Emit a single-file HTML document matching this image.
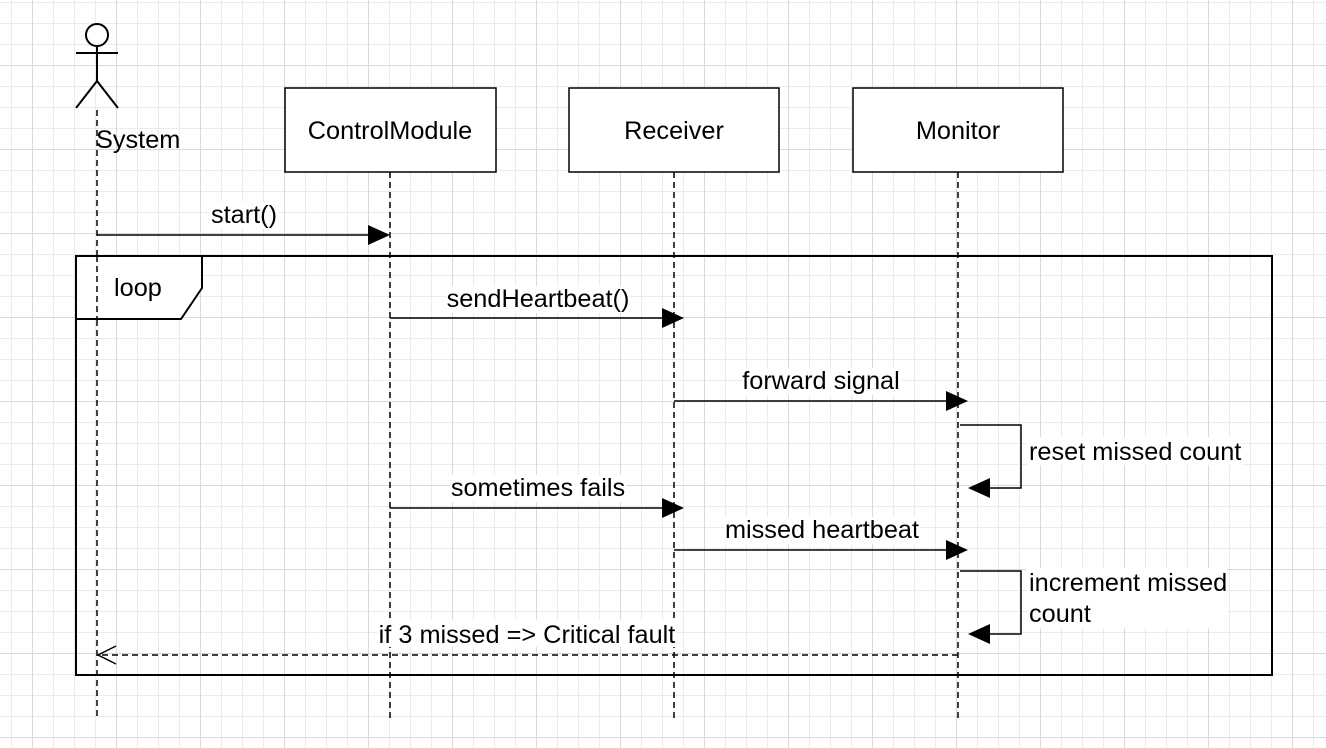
<!DOCTYPE html>
<html><head><meta charset="utf-8"><style>
html,body{margin:0;padding:0;background:#fff;}
svg{display:block;}
text{font-family:"Liberation Sans",Helvetica,Arial,sans-serif;font-size:25.3px;fill:#000;}
</style></head><body>
<svg width="1326" height="748" viewBox="0 0 1326 748" xmlns="http://www.w3.org/2000/svg">
<defs>
<pattern id="minor" x="11" y="2" width="21" height="21" patternUnits="userSpaceOnUse">
<path d="M0 0.5H21M0.5 0V21" stroke="#ebebeb" stroke-width="1" fill="none"/>
</pattern>
<pattern id="major" x="32" y="65" width="84" height="84" patternUnits="userSpaceOnUse">
<path d="M0 0.5H84M0.5 0V84" stroke="#d9d9d9" stroke-width="1" fill="none"/>
</pattern>
</defs>
<rect width="1326" height="748" fill="url(#minor)"/>
<rect width="1326" height="748" fill="url(#major)"/>

<g stroke="#000" stroke-width="1.5" stroke-dasharray="6,4" fill="none">
<line x1="97" y1="110" x2="97" y2="718"/>
<line x1="390" y1="172" x2="390" y2="718"/>
<line x1="674" y1="172" x2="674" y2="718"/>
<line x1="958" y1="172" x2="958" y2="718"/>
</g>

<g stroke="#000" stroke-width="2" fill="none">
<circle cx="97" cy="35" r="11" fill="#fff"/>
<line x1="97" y1="46" x2="97" y2="81"/>
<line x1="76" y1="53" x2="118" y2="53"/>
<line x1="97" y1="81" x2="76" y2="108"/>
<line x1="97" y1="81" x2="118" y2="108"/>
</g>
<text x="96" y="148">System</text>

<g stroke="#000" stroke-width="1.5" fill="#fff">
<rect x="285" y="88" width="211" height="84"/>
<rect x="569" y="88" width="210" height="84"/>
<rect x="853" y="88" width="210" height="84"/>
</g>
<text x="390" y="139" text-anchor="middle">ControlModule</text>
<text x="674" y="139" text-anchor="middle">Receiver</text>
<text x="958" y="139" text-anchor="middle">Monitor</text>

<rect x="76" y="256" width="1196" height="419" fill="none" stroke="#000" stroke-width="2"/>
<path d="M76 256H202V288L181 319H76Z" fill="#fff" stroke="#000" stroke-width="2"/>
<line x1="97" y1="256" x2="97" y2="320" stroke="#000" stroke-width="1.5" stroke-dasharray="6,4"/>
<text x="114" y="296">loop</text>

<g stroke="#000" stroke-width="1.5" fill="none">
<line x1="97" y1="235" x2="370" y2="235"/>
<line x1="390" y1="318" x2="664" y2="318"/>
<line x1="674" y1="401" x2="948" y2="401"/>
<path d="M960 425H1021V488H988"/>
<line x1="390" y1="508" x2="664" y2="508"/>
<line x1="674" y1="550" x2="948" y2="550"/>
<path d="M960 571H1021V634H988"/>
<line x1="958" y1="655" x2="100" y2="655" stroke-dasharray="6,4"/>
<path d="M116 646L98 655L116 664"/>
</g>
<g fill="#000">
<path d="M368 225L390 235L368 245Z"/>
<path d="M662 308L684 318L662 328Z"/>
<path d="M946 391L968 401L946 411Z"/>
<path d="M990 478L968 488L990 498Z"/>
<path d="M662 498L684 508L662 518Z"/>
<path d="M946 540L968 550L946 560Z"/>
<path d="M990 624L968 634L990 644Z"/>
</g>

<!-- label backgrounds -->
<g fill="#fff">
<rect x="209" y="202" width="70" height="27"/>
<rect x="446" y="286" width="184" height="27"/>
<rect x="742" y="368" width="159" height="27"/>
<rect x="1027" y="437" width="215" height="28"/>
<rect x="450" y="475" width="176" height="27"/>
<rect x="724" y="517" width="197" height="27"/>
<rect x="1027" y="568" width="200" height="60"/>
<rect x="378" y="620" width="298" height="27"/>
</g>
<text x="244" y="223" text-anchor="middle">start()</text>
<text x="538" y="307" text-anchor="middle">sendHeartbeat()</text>
<text x="821" y="389" text-anchor="middle">forward signal</text>
<text x="1029" y="460">reset missed count</text>
<text x="538" y="496" text-anchor="middle">sometimes fails</text>
<text x="822" y="538" text-anchor="middle">missed heartbeat</text>
<text x="1029" y="591">increment missed</text>
<text x="1029" y="622">count</text>
<text x="527" y="643" text-anchor="middle">if 3 missed =&gt; Critical fault</text>
</svg>
</body></html>
